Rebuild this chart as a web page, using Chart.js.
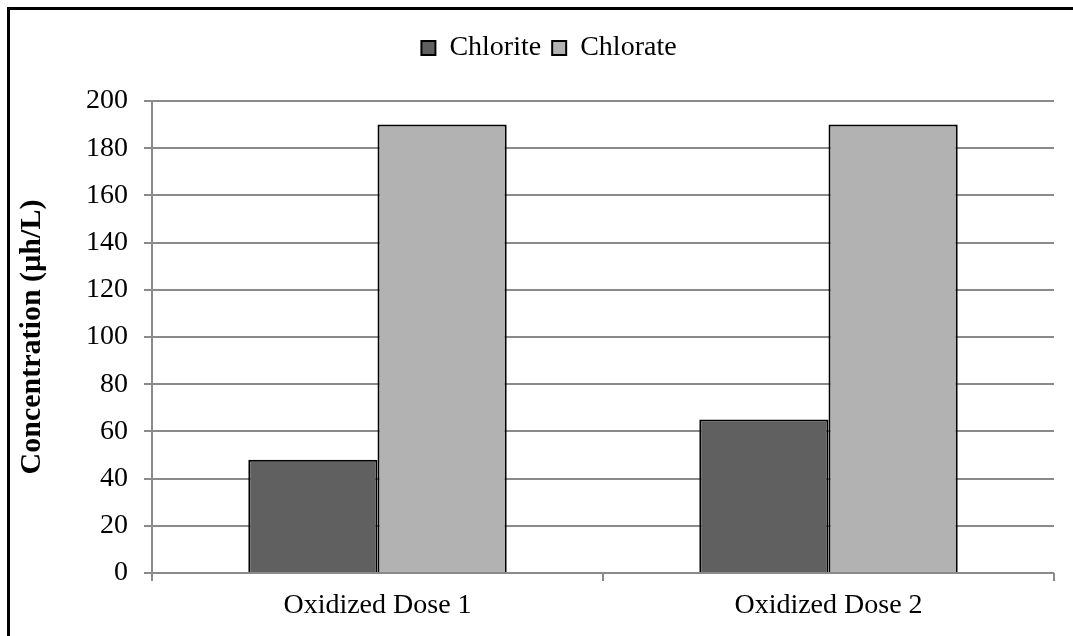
<!DOCTYPE html>
<html>
<head>
<meta charset="utf-8">
<script src="https://cdn.jsdelivr.net/npm/chart.js@4/dist/chart.umd.min.js"></script>
<style>
  html, body { margin: 0; padding: 0; background: #fff; overflow: hidden; }
  #wrap { position: relative; width: 1073px; height: 636px; }
  #frame { position: absolute; left: 7px; top: 7px; width: 2000px; height: 2000px;
           border: 3px solid #000; pointer-events: none; }
</style>
</head>
<body>
<div id="wrap">
  <canvas id="myChart" width="1073" height="636"></canvas>
  <div id="frame"></div>
</div>
<script>
var categories = ["Oxidized Dose 1", "Oxidized Dose 2"];
var chlorite = [48, 65];
var chlorate = [190, 190];
var yTicks = [0, 20, 40, 60, 80, 100, 120, 140, 160, 180, 200];

var serif = "'Liberation Serif', 'Times New Roman', serif";

// legend height fix so the plot starts where the original does,
// and nudge the legend a bit to the right like in the original
var legendHeightFix = {
    id: "legendHeightFix",
    beforeLayout: function (chart) {
        var lg = chart.legend;
        if (lg && !lg._patched) {
            var f = lg.fit;
            lg.fit = function () { f.call(this); this.height = 78; };
            lg._patched = true;
        }
    },
    afterLayout: function (chart) {
        var lg = chart.legend;
        if (lg) {
            lg.left += 22;
            lg.right += 22;
        }
    }
};

var config = {
    type: "bar",
    data: {
        labels: categories,
        datasets: [{
            label: "Chlorite",
            data: chlorite,
            backgroundColor: "#606060",
            borderColor: "#000",
            borderWidth: 2
        }, {
            label: "Chlorate",
            data: chlorate,
            backgroundColor: "#b2b2b2",
            borderColor: "#000",
            borderWidth: 2
        }]
    },
    options: {
        responsive: false,
        animation: false,
        layout: {
            padding: { left: 0, right: 19, top: 23, bottom: 0 }
        },
        datasets: {
            bar: { categoryPercentage: 0.573, barPercentage: 1.0 }
        },
        plugins: {
            legend: {
                position: "top",
                labels: {
                    color: "#000",
                    font: { family: serif, size: 28 },
                    boxWidth: 14,
                    boxHeight: 14,
                    padding: 11
                }
            },
            tooltip: { enabled: false }
        },
        scales: {
            x: {
                offset: true,
                grid: {
                    offset: true,
                    drawOnChartArea: false,
                    color: "#8a8a8a",
                    lineWidth: 2,
                    tickLength: 8
                },
                border: { display: false },
                ticks: {
                    color: "#000",
                    font: { family: serif, size: 28 },
                    padding: 8
                },
                afterFit: function (scale) { scale.height = 63; }
            },
            y: {
                min: 0,
                max: 200,
                afterBuildTicks: function (scale) {
                    scale.ticks = yTicks.map(function (v) { return { value: v }; });
                },
                grid: {
                    color: "#8a8a8a",
                    lineWidth: 2,
                    tickLength: 8
                },
                border: { display: true, color: "#8a8a8a", width: 2 },
                ticks: {
                    color: "#000",
                    font: { family: serif, size: 28 },
                    padding: 16
                },
                title: {
                    display: true,
                    text: "Concentration (µh/L)",
                    color: "#000",
                    font: { family: serif, size: 30, weight: "bold" },
                    padding: { top: 14, bottom: 0 }
                },
                afterFit: function (scale) { scale.width = 152; }
            }
        }
    },
    plugins: [legendHeightFix]
};

var ctx = document.getElementById("myChart").getContext("2d");
var myChart = new Chart(ctx, config);
</script>
</body>
</html>
